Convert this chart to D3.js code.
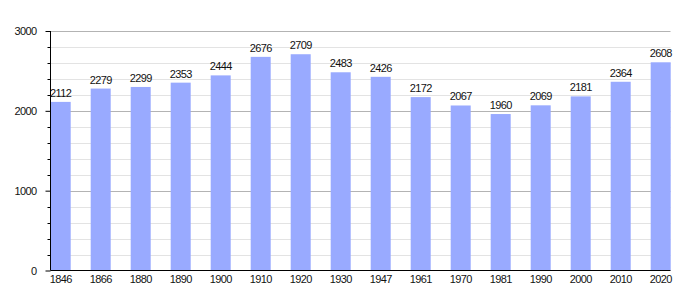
<!DOCTYPE html>
<html><head><meta charset="utf-8">
<script src="https://cdn.jsdelivr.net/npm/d3@7"></script>
<style>body{margin:0;background:#fff}svg{display:block}text{font-family:"Liberation Sans",Arial,sans-serif;font-size:11px;fill:#111;letter-spacing:-0.6px}</style>
</head><body><svg id="c" width="700" height="300"></svg>
<script>
const years = ["1846","1866","1880","1890","1900","1910","1920","1930","1947","1961","1970","1981","1990","2000","2010","2020"];
const population = [2112,2279,2299,2353,2444,2676,2709,2483,2426,2172,2067,1960,2069,2181,2364,2608];
const majorTicks = [0,1000,2000,3000];
const minorTicks = d3.range(0,3001,200);

const svg = d3.select("#c");
const pLeft = 50.5, pRight = 670.5, pTop = 31, pBottom = 270.5;
const y = d3.scaleLinear().domain([0,3000]).range([pBottom, pTop]);
const step = (650.7 - 50.7) / 15;
const x = d3.scaleBand().domain(years).range([50.7, 50.7 + step*16]).paddingInner(0).paddingOuter(0);
const bw = 20;

// minor grid
svg.append("g").selectAll("line").data(minorTicks.filter(d=>d%1000!==0)).join("line")
  .attr("x1", pLeft).attr("x2", pRight).attr("y1", d=>Math.round(y(d))+0.5).attr("y2", d=>Math.round(y(d))+0.5)
  .attr("stroke","#e3e3e3").attr("stroke-width",1);
// major grid
svg.append("g").selectAll("line").data(majorTicks.filter(d=>d>0)).join("line")
  .attr("x1", pLeft).attr("x2", pRight).attr("y1", d=>Math.round(y(d))+0.5).attr("y2", d=>Math.round(y(d))+0.5)
  .attr("stroke","#b3b3b3").attr("stroke-width",1);

// bars
svg.append("g").selectAll("rect").data(population).join("rect")
  .attr("x", (d,i)=>x(years[i])).attr("width", bw)
  .attr("y", d=>y(d)).attr("height", d=>pBottom - y(d))
  .attr("fill","#99aaff");

// value labels
svg.append("g").selectAll("text").data(population).join("text")
  .attr("x",(d,i)=>x(years[i])+bw/2).attr("y", d=>y(d)-5)
  .attr("text-anchor","middle").text(d=>d);

// y axis
const yAxis = d3.axisLeft(y).tickValues(majorTicks).tickSize(5).tickPadding(9).tickFormat(d3.format("d"));
const gy = svg.append("g").attr("transform",`translate(${pLeft},0)`).call(yAxis);
gy.select(".domain").remove();
gy.selectAll("text").style("font-family","Liberation Sans, Arial, sans-serif").style("font-size","11px").attr("fill","#111");
svg.append("g").selectAll("line").data(minorTicks.filter(d=>d%1000!==0)).join("line")
  .attr("x1", pLeft-3).attr("x2", pLeft).attr("y1", d=>Math.round(y(d))+0.5).attr("y2", d=>Math.round(y(d))+0.5)
  .attr("stroke","#000");
svg.append("line").attr("x1",pLeft).attr("x2",pLeft).attr("y1",pTop).attr("y2",pBottom).attr("stroke","#000");
svg.append("line").attr("x1",pLeft).attr("x2",pRight).attr("y1",pBottom).attr("y2",pBottom).attr("stroke","#000");

// x labels
svg.append("g").selectAll("text").data(years).join("text")
  .attr("x", d=>x(d)+bw/2).attr("y", 282.5).attr("text-anchor","middle").text(d=>d);
</script></body></html>
